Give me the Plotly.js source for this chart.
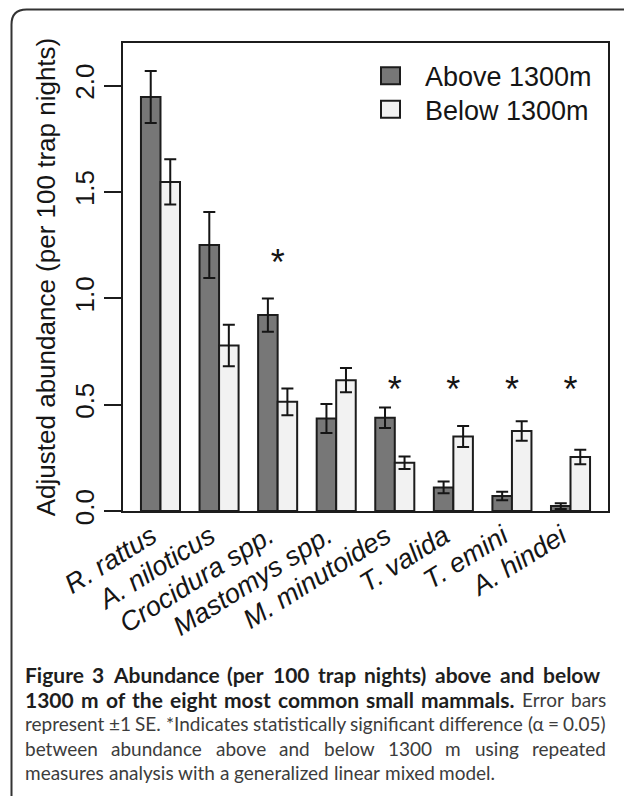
<!DOCTYPE html>
<html><head><meta charset="utf-8">
<script src="https://cdn.plot.ly/plotly-3.0.1.min.js"></script>
<style>html,body{margin:0;padding:0;background:#fff;} #chart{width:624px;height:796px;}</style>
</head><body><div id="chart"></div>
<script>
// ---- data ----
const species = ['R. rattus','A. niloticus','Crocidura spp.','Mastomys spp.','M. minutoides','T. valida','T. emini','A. hindei'];
const seriesNames = ['Above 1300m','Below 1300m'];
const above   = [1.946, 1.250, 0.921, 0.435, 0.438, 0.111, 0.070, 0.023];
const aboveSE = [0.122, 0.155, 0.078, 0.068, 0.048, 0.028, 0.020, 0.014];
const below   = [1.547, 0.778, 0.513, 0.615, 0.227, 0.350, 0.376, 0.254];
const belowSE = [0.106, 0.097, 0.063, 0.057, 0.029, 0.049, 0.046, 0.034];
const significant = [false, false, true, false, true, true, true, true];
const starY = [null, null, 1.153, null, 0.553, 0.553, 0.553, 0.553];
const yTicks = [0, 0.5, 1.0, 1.5, 2.0];
const yTitle = 'Adjusted abundance (per 100 trap nights)';
const captionLines = [
  '<b>Figure 3 Abundance (per 100 trap nights) above and below</b>',
  '<b>1300 m of the eight most common small mammals.</b> Error bars',
  'represent ±1 SE. *Indicates statistically significant difference (α = 0.05)',
  'between abundance above and below 1300 m using repeated',
  'measures analysis with a generalized linear mixed model.'
];

// ---- styles / geometry ----
const W = 624, H = 796;
const M = {l: 123, r: 16, t: 43, b: 285};
const pw = W - M.l - M.r, ph = H - M.t - M.b;
const px2x = px => (px - M.l) / pw;
const py2y = py => (H - M.b - py) / ph;
const DARK = '#777777', LIGHT = '#f2f2f2', INK = '#151515', EDGE = '#1c1c1c';
const FONT = 'Liberation Sans, Arial, sans-serif';
const CAPFONT = 'Lato, Open Sans, sans-serif';
const CAP_N = 19, CAP_B = 21;

const errStyle = {type: 'data', visible: true, color: INK, thickness: 2, width: 6};
const traces = [
  {type: 'bar', name: seriesNames[0], x: species, y: above,
   error_y: Object.assign({array: aboveSE}, errStyle),
   marker: {color: DARK, line: {color: EDGE, width: 2}}, hoverinfo: 'y'},
  {type: 'bar', name: seriesNames[1], x: species, y: below,
   error_y: Object.assign({array: belowSE}, errStyle),
   marker: {color: LIGHT, line: {color: EDGE, width: 2}}, hoverinfo: 'y'},
  {type: 'scatter', mode: 'text',
   x: species.filter((s, i) => significant[i]),
   y: starY.filter((v, i) => significant[i]),
   text: species.filter((s, i) => significant[i]).map(() => '*'),
   textposition: 'middle center', cliponaxis: false,
   textfont: {family: FONT, size: 36, color: INK}, hoverinfo: 'skip'}
];

// legend (manual, to get R-style boxes)
const legShapes = [], legAnn = [];
const legRows = [75.8, 109.3];
[DARK, LIGHT].forEach((c, i) => {
  legShapes.push({type: 'rect', xref: 'paper', yref: 'paper',
    x0: px2x(381), x1: px2x(400), y0: py2y(legRows[i] - 8.5), y1: py2y(legRows[i] + 8.5),
    fillcolor: c, line: {color: EDGE, width: 2}});
  legAnn.push({xref: 'paper', yref: 'paper', x: px2x(423), y: py2y(legRows[i] + 1.5),
    xanchor: 'left', yanchor: 'middle', showarrow: false, text: seriesNames[i],
    font: {family: FONT, size: 27, color: INK}});
});

// outer figure frame with rounded top-left corner
const fl = 11.5, ft = 9.5, rad = 15;
const framePath = `M ${px2x(700)},${py2y(ft)} L ${px2x(fl + rad)},${py2y(ft)} Q ${px2x(fl)},${py2y(ft)} ${px2x(fl)},${py2y(ft + rad)} L ${px2x(fl)},${py2y(900)}`;

// caption: justified lines (last line ragged), words laid out with canvas metrics
const capBase = [682, 706.5, 731, 755.5, 780];
const capRight = [600, 606, 606, 606, null];
const capLeft = 25;
const ctx = document.createElement('canvas').getContext('2d');
const capAnn = [];
captionLines.forEach((line, li) => {
  let bold = false;
  const words = line.split(' ').map(tok => {
    if (tok.indexOf('<b>') >= 0) bold = true;
    const w = {txt: tok.replace(/<\/?b>/g, ''), bold: bold};
    if (tok.indexOf('</b>') >= 0) bold = false;
    return w;
  });
  words.forEach(w => {
    ctx.font = (w.bold ? 'bold ' + CAP_B : CAP_N) + 'px ' + CAPFONT;
    w.width = ctx.measureText(w.txt).width;
  });
  ctx.font = CAP_N + 'px ' + CAPFONT;
  const natGap = ctx.measureText(' ').width;
  const total = words.reduce((s, w) => s + w.width, 0);
  const gap = capRight[li] ? (capRight[li] - capLeft - total) / (words.length - 1) : natGap;
  let xpos = capLeft;
  words.forEach(w => {
    capAnn.push({xref: 'paper', yref: 'paper', x: px2x(xpos), y: py2y(capBase[li] - CAP_N * 0.33 - 1),
      xanchor: 'left', yanchor: 'middle', showarrow: false, borderpad: 0, borderwidth: 0,
      text: w.bold ? '<b>' + w.txt + '</b>' : w.txt,
      font: {family: CAPFONT, size: w.bold ? CAP_B : CAP_N, color: w.bold ? '#1e1e1e' : '#3c3c3c'}});
    xpos += w.width + gap;
  });
});

const layout = {
  width: W, height: H, autosize: false, margin: M,
  paper_bgcolor: '#fff', plot_bgcolor: '#fff', showlegend: false,
  barmode: 'group', bargap: 1/3, bargroupgap: 0,
  font: {family: FONT, color: INK},
  xaxis: {type: 'category', range: [-0.64, 7.64], showline: true, mirror: true,
    linecolor: EDGE, linewidth: 2, ticks: '', showgrid: false, zeroline: false,
    tickangle: -32, ticklabelshift: -9, ticklabelstandoff: -3,
    tickfont: {family: FONT, size: 27, color: INK, style: 'italic'}},
  yaxis: {range: [0, 2.2], tickvals: yTicks, tickformat: '.1f', ticks: 'outside',
    ticklen: 17, tickwidth: 2, tickcolor: EDGE, tickangle: -90,
    tickfont: {family: FONT, size: 26, color: INK},
    showline: true, mirror: true, linecolor: EDGE, linewidth: 2,
    showgrid: false, zeroline: false,
    title: {text: yTitle, font: {family: FONT, size: 26, color: INK}, standoff: 6}},
  shapes: [{type: 'path', xref: 'paper', yref: 'paper', path: framePath,
    line: {color: '#333', width: 2}}].concat(legShapes),
  annotations: legAnn.concat(capAnn)
};

Plotly.newPlot('chart', traces, layout, {displayModeBar: false, staticPlot: true});
</script>
</body></html>
